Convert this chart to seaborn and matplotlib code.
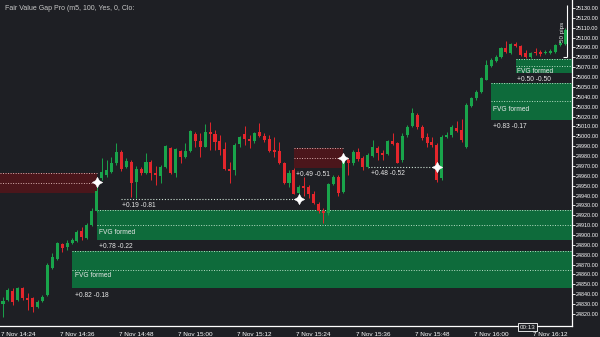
import numpy as np
import pandas as pd
import matplotlib
matplotlib.use("Agg")
import matplotlib.pyplot as plt
import matplotlib.transforms as mtransforms
import seaborn as sns

# ---------------- data (1-minute candles, 7 Nov 14:21 .. 16:15) ----------------
opens = [24830, 24834, 24843, 24834, 24846, 24836, 24836, 24827, 24833, 24839,
         24867, 24876, 24891, 24888, 24892, 24894, 24904, 24897, 24910, 24924,
         24958, 24961, 24964, 24973, 24984, 24969, 24974, 24954, 24967, 24963,
         24974, 24963, 24960, 24969, 24988, 24963, 24985, 24979, 24985, 25002,
         24995, 24989, 25004, 25002, 24995, 24987, 24967, 24966, 24992, 25002,
         24997, 24995, 25004, 25000, 24997, 24986, 24985, 24973, 24953, 24966,
         24943, 24950, 24949, 24942, 24931, 24924, 24922, 24952, 24959, 24944,
         24976, 24973, 24984, 24978, 24969, 24980, 24988, 24983, 24982, 24995,
         24993, 24976, 25001, 25010, 25022, 25009, 24999, 24994, 24991, 24958,
         24999, 25001, 25008, 25006, 24989, 25031, 25039, 25045, 25057, 25071,
         25076, 25080, 25089, 25084, 25094, 25091, 25084, 25080, 25085, 25085,
         25084, 25084, 25085, 25092, 25094]
highs = [24837, 24846, 24846, 24847, 24847, 24841, 24837, 24834, 24839, 24872,
         24882, 24893, 24892, 24895, 24897, 24905, 24908, 24912, 24927, 24953,
         24978, 24976, 24979, 24993, 24986, 24978, 24976, 24970, 24969, 24983,
         24976, 24970, 24971, 24991, 24989, 24988, 24986, 24993, 25006, 25004,
         25003, 25012, 25014, 25006, 25001, 24994, 24974, 24993, 25000, 25010,
         25001, 25004, 25013, 25003, 25001, 24999, 24994, 24974, 24966, 24968,
         24951, 24959, 24951, 24945, 24933, 24927, 24953, 24961, 24961, 24979,
         24978, 24986, 24988, 24980, 24983, 24996, 24990, 24986, 24996, 25003,
         24994, 25003, 25011, 25029, 25024, 25011, 25003, 24999, 24993, 25001,
         25004, 25011, 25016, 25018, 25034, 25040, 25047, 25060, 25077, 25079,
         25082, 25090, 25097, 25095, 25096, 25092, 25087, 25085, 25089, 25087,
         25087, 25088, 25094, 25097, 25110]
lows = [24817, 24833, 24829, 24833, 24834, 24824, 24822, 24826, 24832, 24838,
        24866, 24875, 24883, 24885, 24891, 24893, 24895, 24896, 24909, 24923,
        24956, 24959, 24963, 24971, 24965, 24968, 24938, 24937, 24961, 24962,
        24956, 24951, 24953, 24968, 24962, 24959, 24973, 24978, 24984, 24989,
        24979, 24989, 24986, 24986, 24981, 24966, 24953, 24961, 24989, 24991,
        24988, 24993, 24999, 24994, 24984, 24979, 24972, 24952, 24949, 24942,
        24942, 24940, 24937, 24931, 24922, 24912, 24920, 24951, 24940, 24943,
        24961, 24971, 24975, 24966, 24968, 24979, 24976, 24976, 24981, 24991,
        24973, 24974, 24999, 25009, 25007, 24996, 24989, 24989, 24954, 24956,
        24998, 24999, 25004, 24994, 24988, 25030, 25037, 25044, 25057, 25070,
        25075, 25079, 25084, 25083, 25090, 25081, 25079, 25079, 25082, 25081,
        25083, 25083, 25084, 25091, 25093]
closes = [24833, 24844, 24832, 24846, 24836, 24834, 24827, 24832, 24837, 24870,
          24878, 24892, 24887, 24892, 24895, 24903, 24898, 24910, 24924, 24945,
          24964, 24966, 24973, 24984, 24967, 24975, 24953, 24967, 24963, 24974,
          24963, 24961, 24969, 24990, 24963, 24987, 24979, 24985, 25005, 24995,
          24989, 25004, 25002, 24994, 24986, 24967, 24965, 24991, 24999, 24997,
          24995, 25003, 25000, 24996, 24985, 24984, 24973, 24953, 24963, 24942,
          24949, 24948, 24942, 24932, 24924, 24922, 24952, 24959, 24943, 24976,
          24973, 24984, 24977, 24969, 24981, 24989, 24983, 24981, 24995, 24992,
          24973, 25000, 25009, 25024, 25009, 24998, 24993, 24991, 24956, 24999,
          25001, 25009, 25005, 24996, 25032, 25039, 25045, 25059, 25072, 25077,
          25080, 25089, 25085, 25094, 25091, 25082, 25080, 25084, 25084, 25083,
          25085, 25086, 25092, 25095, 25108]

x_tick_labels = ["7 Nov 14:24", "7 Nov 14:36", "7 Nov 14:48", "7 Nov 15:00",
                 "7 Nov 15:12", "7 Nov 15:24", "7 Nov 15:36", "7 Nov 15:48",
                 "7 Nov 16:00", "7 Nov 16:12"]
x_tick_candles = [3, 15, 27, 39, 51, 63, 75, 87, 99, 111]
y_tick_values = list(range(24820, 25131, 10))

title_text = "Fair Value Gap Pro (m5, 100, Yes, 0, Clo:"

# bearish zones (start candle, end candle, top, bottom, label)
red_zone_start = [-1, 59]
red_zone_end = [19, 69]
red_zone_top = [24963, 24988]
red_zone_bottom = [24943, 24968]
red_zone_label = ["", "+0.49 -0.51"]

# bullish FVG zones (start candle, top, bottom, label)
green_zone_start = [19, 14, 99, 104]
green_zone_top = [24925, 24884, 25054, 25078]
green_zone_bottom = [24895, 24846, 25017, 25064]
green_zone_label = ["+0.78 -0.22", "+0.82 -0.18", "+0.83 -0.17", "+0.50 -0.50"]

# mitigated levels (dotted lines)
level_start = [24, 74]
level_end = [60, 88]
level_price = [24936, 24969]
level_label = ["+0.19 -0.81", "+0.48 -0.52"]

cross_x = [19, 69, 60, 88]
cross_y = [24954, 24978, 24936, 24969]

pips_low, pips_high = 25080, 25133
pips_label = "50 pips"
countdown = "00:13"

# ---------------- styling ----------------
BG = "#1e1f24"
GREEN = "#19a44b"
RED = "#e4262c"
ZONE_GREEN = "#0e6b3b"
ZONE_RED = "#4b161b"
TXT = "#e8e8e8"

sns.set_style("dark", rc={"axes.facecolor": BG, "figure.facecolor": BG,
                          "axes.edgecolor": "white", "grid.color": BG})
plt.rcParams["font.family"] = ["Liberation Sans", "DejaVu Sans"]

df = pd.DataFrame({"open": opens, "high": highs, "low": lows, "close": closes})
df["i"] = np.arange(len(df))
df["up"] = df["close"] >= df["open"]
df["col"] = np.where(df["up"], GREEN, RED)

fig = plt.figure(figsize=(6, 3.37), dpi=100)
ax = fig.add_axes([0, 11 / 337, 572 / 600, 326 / 337])
XL = (-0.61, 115.4)
ax.set_xlim(*XL)
ax.set_ylim(24807.8, 25138.1)

dot = (0, (1, 1.6))

# zones
for s, e, t, b in zip(red_zone_start, red_zone_end, red_zone_top, red_zone_bottom):
    s = max(s, XL[0])
    ax.fill_between([s, e], b, t, color=ZONE_RED, lw=0, zorder=1)
    ax.hlines([t, (t + b) / 2], s, e, colors="#d9b0b0", lw=0.7, linestyles=dot, zorder=1.5)
for s, t, b in zip(green_zone_start, green_zone_top, green_zone_bottom):
    ax.fill_between([s, XL[1]], b, t, color=ZONE_GREEN, lw=0, zorder=1)
    ax.hlines([t, (t + b) / 2], s, XL[1], colors="#b9dec6", lw=0.7, linestyles=dot, zorder=1.5)

for s, e, p in zip(level_start, level_end, level_price):
    ax.hlines(p, s, e, colors="#cfe3d6", lw=0.8, linestyles=dot, zorder=1.5)

# candles
ax.vlines(df["i"], df["low"], df["high"], colors=df["col"], lw=0.7, zorder=3)
body_lo = np.minimum(df["open"], df["close"])
body_h = np.maximum(np.abs(df["close"] - df["open"]), 0.9)
ax.bar(df["i"], body_h, bottom=body_lo, width=0.62, color=df["col"], lw=0, zorder=4)

# crosses
sns.scatterplot(x=cross_x, y=cross_y, ax=ax, marker=(4, 1, 0), s=55, color="white",
                edgecolor="white", linewidth=0.4, zorder=6, legend=False)

# texts
fs = 4.8
ax.text(59.5, 24961, red_zone_label[1], color=TXT, fontsize=fs, va="center", zorder=7)
gl_pos = [(19.5, 24888), (14.6, 24839), (99.4, 25010), (104.3, 25058)]
gf_pos = [(19.5, 24903), (14.6, 24859), (99.4, 25027), (104.3, 25066)]
for (x, y), lab in zip(gl_pos, green_zone_label):
    ax.text(x, y, lab, color=TXT, fontsize=fs, va="center", zorder=7)
for (x, y) in gf_pos:
    ax.text(x, y, "FVG formed", color=TXT, fontsize=fs, va="center", zorder=7)
lv_pos = [(24.2, 24930), (74.6, 24962)]
for (x, y), lab in zip(lv_pos, level_label):
    ax.text(x, y, lab, color=TXT, fontsize=fs, va="center", zorder=7)

# 50 pips bracket
ax.vlines(114.4, pips_low, pips_high, colors="white", lw=0.8, zorder=7)
ax.hlines(pips_low, 113.6, 114.4, colors="white", lw=0.8, zorder=7)
ax.text(113.5, 25106, pips_label, color=TXT, fontsize=4.5, rotation=90,
        ha="center", va="center", zorder=7)

# title
ax.text(0.009, 0.975, title_text, transform=ax.transAxes, color="#c8c8c8",
        fontsize=5, va="center", ha="left")

# axes
for sp in ["top", "left"]:
    ax.spines[sp].set_visible(False)
for sp in ["right", "bottom"]:
    ax.spines[sp].set_color("white")
    ax.spines[sp].set_linewidth(0.9)
ax.yaxis.tick_right()
ax.set_yticks(y_tick_values)
ax.set_yticklabels([f"{v:.2f}" for v in y_tick_values])
ax.set_xticks(x_tick_candles)
ax.set_xticklabels(x_tick_labels)
ax.tick_params(axis="y", colors="white", labelsize=3.9, length=2, width=0.6, pad=1)
ax.tick_params(axis="x", colors="white", labelsize=4.6, length=3, width=0.6, pad=1)
ax.grid(False)
ax.set_xlabel("")
ax.set_ylabel("")

# countdown box
trans = mtransforms.blended_transform_factory(ax.transData, ax.transAxes)
ax.text(106.4, -0.004, countdown, transform=trans, color=TXT, fontsize=4.5,
        ha="center", va="center", clip_on=False, zorder=8,
        bbox=dict(boxstyle="square,pad=0.25", fc=BG, ec="white", lw=0.6))

fig.savefig("out.png", dpi=100, facecolor=BG)
